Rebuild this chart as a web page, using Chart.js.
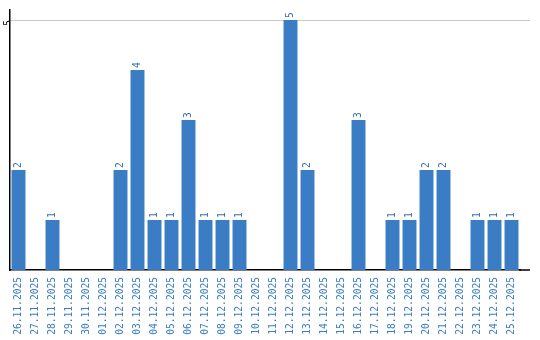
<!DOCTYPE html>
<html><head><meta charset="utf-8">
<script src="https://cdn.jsdelivr.net/npm/chart.js@4"></script>
<style>html,body{margin:0;padding:0;background:#fff}#wrap{width:540px;height:340px}</style>
</head><body><div id="wrap"><canvas id="c" width="540" height="340"></canvas></div>
<script>
const categories = ["26.11.2025","27.11.2025","28.11.2025","29.11.2025","30.11.2025","01.12.2025","02.12.2025","03.12.2025","04.12.2025","05.12.2025","06.12.2025","07.12.2025","08.12.2025","09.12.2025","10.12.2025","11.12.2025","12.12.2025","13.12.2025","14.12.2025","15.12.2025","16.12.2025","17.12.2025","18.12.2025","19.12.2025","20.12.2025","21.12.2025","22.12.2025","23.12.2025","24.12.2025","25.12.2025"];
const values = [2,0,1,0,0,0,2,4,1,1,3,1,1,1,0,0,5,2,0,0,3,0,1,1,2,2,0,1,1,1];
const yTicks = [5];
const FONT = "'DejaVu Sans Mono', monospace";

const valueLabels = {
  id: 'valueLabels',
  beforeDatasetsDraw(chart) {
    const ctx = chart.ctx, a = chart.chartArea, y = chart.scales.y;
    ctx.save();
    ctx.lineWidth = 1;
    ctx.strokeStyle = '#c8c8c8';
    yTicks.forEach(t => {
      const py = Math.round(y.getPixelForValue(t)) + 0.5;
      ctx.beginPath(); ctx.moveTo(a.right, py); ctx.lineTo(a.right + 10, py); ctx.stroke();
    });
    ctx.restore();
  },
  afterDatasetsDraw(chart) {
    const ctx = chart.ctx;
    const meta = chart.getDatasetMeta(0);
    const a = chart.chartArea;
    ctx.save();
    ctx.strokeStyle = '#000'; ctx.lineWidth = 1.5;
    ctx.beginPath(); ctx.moveTo(a.right - 1, a.bottom); ctx.lineTo(a.right + 10, a.bottom); ctx.stroke();
    ctx.font = "9.6px " + FONT;
    ctx.fillStyle = '#3a6fa8';
    ctx.textAlign = 'left';
    ctx.textBaseline = 'middle';
    meta.data.forEach((bar, i) => {
      const v = values[i];
      if (!v) return;
      ctx.save();
      ctx.translate(bar.x, bar.y - 2);
      ctx.rotate(-Math.PI / 2);
      ctx.fillText(String(v), 0, 0);
      ctx.restore();
    });
    ctx.restore();
  }
};

new Chart(document.getElementById('c'), {
  type: 'bar',
  data: { labels: categories, datasets: [{ data: values, backgroundColor: '#3b7dc4', borderWidth: 0, barPercentage: 0.82, categoryPercentage: 1 }] },
  options: {
    responsive: false, animation: false, devicePixelRatio: 1,
    layout: { padding: { top: 10, right: 20, left: 0, bottom: 0 } },
    plugins: { legend: { display: false }, tooltip: { enabled: false } },
    scales: {
      x: {
        afterFit: (s) => { s.height = 70; },
        grid: { display: false, drawTicks: false },
        border: { color: '#000', width: 1.5 },
        ticks: { color: '#3a7dc2', font: { family: FONT, size: 9.6 }, minRotation: 90, maxRotation: 90, padding: 7, autoSkip: false }
      },
      y: {
        min: 0, max: 5.2,
        afterFit: (s) => { s.width = 10; },
        afterBuildTicks: (s) => { s.ticks = yTicks.map(v => ({ value: v })); },
        grid: { color: '#c8c8c8', drawTicks: false, lineWidth: 1 },
        border: { color: '#000', width: 1.5 },
        ticks: { color: '#000', font: { family: FONT, size: 9.6 }, minRotation: 90, maxRotation: 90, padding: 2 }
      }
    }
  },
  plugins: [valueLabels]
});
</script></body></html>
